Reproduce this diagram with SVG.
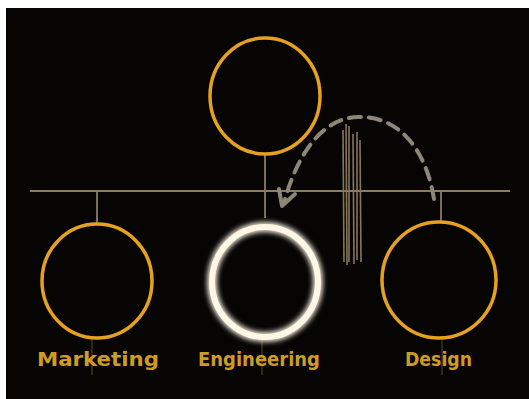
<svg xmlns="http://www.w3.org/2000/svg" width="529" height="399" viewBox="0 0 529 399">
  <style>
    .ring{fill:none;stroke:#e6a11e;stroke-width:3.5}
    .tie{stroke:#8c7d5e;stroke-width:1.8;fill:none}
    .faint{stroke:#6b5a30;stroke-width:1.2;fill:none;opacity:0.7}
    .lbl{font-family:"DejaVu Sans Condensed","DejaVu Sans",sans-serif;font-size:19px;font-weight:bold;fill:#cf9c22}
    .dash{fill:none;stroke:#8e8676;stroke-width:4;stroke-dasharray:12 8;stroke-linecap:round}
    .scr{stroke:#86775a;stroke-width:1.6;fill:none}
  </style>
  <defs>
    <filter id="glow" x="-30%" y="-30%" width="160%" height="160%">
      <feGaussianBlur stdDeviation="3" result="b"/>
      <feMerge><feMergeNode in="b"/><feMergeNode in="b"/><feMergeNode in="SourceGraphic"/></feMerge>
    </filter>
  </defs>
  <rect x="0" y="0" width="529" height="399" fill="#ffffff"/>
  <rect x="6" y="8" width="523" height="391" fill="#060504"/>

  <g id="connectors">
    <line class="tie" x1="30" y1="191" x2="510" y2="191"/>
    <line class="tie" x1="97" y1="191" x2="97" y2="223"/>
    <line class="tie" x1="265" y1="154" x2="265" y2="218"/>
    <line class="tie" x1="441" y1="191" x2="441" y2="221"/>
    <line class="faint" x1="92" y1="338" x2="92" y2="375"/>
    <line class="faint" x1="262" y1="338" x2="262" y2="375"/>
    <line class="faint" x1="442" y1="338" x2="442" y2="375"/>
    <path class="dash" d="M434 199 C426 150 400 116 358 117 C320 118 296 158 284 203"/>
    <path d="M279 189 L282 206 L295 194" fill="none" stroke="#8e8676" stroke-width="4" stroke-linecap="round" stroke-linejoin="round"/>
  </g>

  <g id="divider">
    <line class="scr" x1="343" y1="130" x2="344" y2="262"/>
    <line class="scr" x1="346" y1="124" x2="347" y2="265"/>
    <line class="scr" x1="349" y1="126" x2="349" y2="262"/>
    <line class="scr" x1="353" y1="134" x2="354" y2="264"/>
    <line class="scr" x1="357" y1="132" x2="357" y2="260"/>
    <line class="scr" x1="360" y1="140" x2="361" y2="262"/>
  </g>

  <g id="top">
    <ellipse class="ring" cx="265" cy="96" rx="55" ry="58"/>
  </g>
  <g id="marketing">
    <ellipse class="ring" cx="97" cy="281" rx="55" ry="57"/>
    <text class="lbl" x="37" y="366" textLength="122" lengthAdjust="spacingAndGlyphs">Marketing</text>
  </g>
  <g id="engineering">
    <ellipse cx="265" cy="282" rx="53" ry="55" fill="none" stroke="#fff6e6" stroke-width="6" filter="url(#glow)"/>
    <text class="lbl" x="198" y="366" textLength="122" lengthAdjust="spacingAndGlyphs">Engineering</text>
  </g>
  <g id="design">
    <ellipse class="ring" cx="439" cy="280" rx="57" ry="58"/>
    <text class="lbl" x="405" y="366" textLength="67" lengthAdjust="spacingAndGlyphs">Design</text>
  </g>
</svg>
